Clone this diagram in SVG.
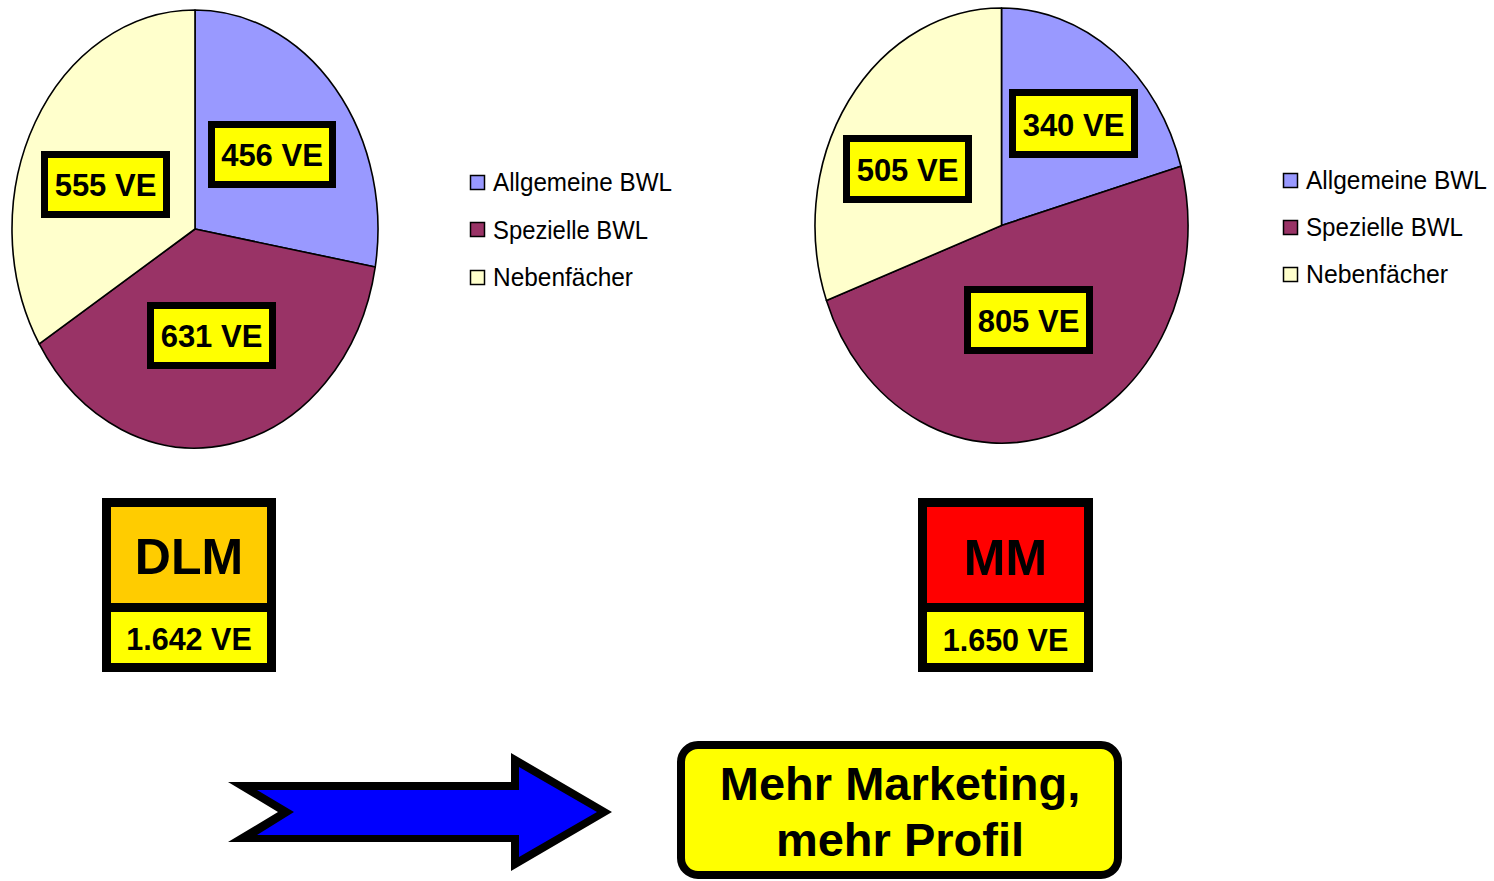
<svg xmlns="http://www.w3.org/2000/svg" width="1494" height="881" viewBox="0 0 1494 881">
  <style>
    .slice { stroke: #000; stroke-width: 1.6; stroke-linejoin: round; }
    .allg { fill: #9999FF; }
    .spez { fill: #993366; }
    .neben { fill: #FFFFCC; }
    .lbl { fill: #FFFF00; stroke: #000; stroke-width: 7; }
    .lbltxt { font-family: "Liberation Sans", Arial, sans-serif; font-weight: bold; font-size: 31px; fill: #000; text-anchor: middle; }
    .key { stroke: #000; stroke-width: 1.5; }
    .legtxt { font-family: "Liberation Sans", Arial, sans-serif; font-size: 25px; fill: #000; }
    .box { stroke: #000; stroke-width: 9; }
    .big { font-family: "Liberation Sans", Arial, sans-serif; font-weight: bold; font-size: 50px; fill: #000; text-anchor: middle; }
    .sum { font-family: "Liberation Sans", Arial, sans-serif; font-weight: bold; font-size: 30.5px; fill: #000; text-anchor: middle; }
    .claim { font-family: "Liberation Sans", Arial, sans-serif; font-weight: bold; font-size: 47px; fill: #000; text-anchor: middle; }
  </style>

  <!-- Pie chart: DLM -->
  <g id="pie-dlm">
    <path class="slice allg" d="M195,229 L195,10 A183,219 0 0 1 375.22,267.03 Z"/>
    <path class="slice spez" d="M195,229 L375.22,267.03 A183,219 0 0 1 39.23,343.95 Z"/>
    <path class="slice neben" d="M195,229 L39.23,343.95 A183,219 0 0 1 195,10 Z"/>
    <rect class="lbl" x="211.5" y="124.5" width="121" height="60"/>
    <text class="lbltxt" x="272" y="166">456 VE</text>
    <rect class="lbl" x="44.5" y="154.5" width="122" height="60"/>
    <text class="lbltxt" x="105.5" y="196">555 VE</text>
    <rect class="lbl" x="150.5" y="305.5" width="122" height="60"/>
    <text class="lbltxt" x="211.5" y="347">631 VE</text>
  </g>

  <!-- Legend: DLM -->
  <g id="legend-dlm">
    <rect class="key allg" x="470.5" y="175.5" width="14" height="14"/>
    <text class="legtxt" x="493" y="191" textLength="179" lengthAdjust="spacingAndGlyphs">Allgemeine BWL</text>
    <rect class="key spez" x="470.5" y="222.5" width="14" height="14"/>
    <text class="legtxt" x="493" y="239" textLength="155" lengthAdjust="spacingAndGlyphs">Spezielle BWL</text>
    <rect class="key neben" x="470.5" y="270.5" width="14" height="14"/>
    <text class="legtxt" x="493" y="286" textLength="140" lengthAdjust="spacingAndGlyphs">Nebenfächer</text>
  </g>

  <!-- Pie chart: MM -->
  <g id="pie-mm">
    <path class="slice allg" d="M1001.5,225.5 L1001.5,8 A186.5,217.5 0 0 1 1180.94,166.21 Z"/>
    <path class="slice spez" d="M1001.5,225.5 L1180.94,166.21 A186.5,217.5 0 0 1 826.44,300.54 Z"/>
    <path class="slice neben" d="M1001.5,225.5 L826.44,300.54 A186.5,217.5 0 0 1 1001.5,8 Z"/>
    <rect class="lbl" x="1012.5" y="92.5" width="122" height="62"/>
    <text class="lbltxt" x="1073.5" y="135.5">340 VE</text>
    <rect class="lbl" x="846.5" y="138.5" width="122" height="61"/>
    <text class="lbltxt" x="907.5" y="181">505 VE</text>
    <rect class="lbl" x="967.5" y="289.5" width="122" height="61"/>
    <text class="lbltxt" x="1028.5" y="332">805 VE</text>
  </g>

  <!-- Legend: MM -->
  <g id="legend-mm">
    <rect class="key allg" x="1283.5" y="173.5" width="14" height="14"/>
    <text class="legtxt" x="1306" y="189" textLength="181" lengthAdjust="spacingAndGlyphs">Allgemeine BWL</text>
    <rect class="key spez" x="1283.5" y="220.5" width="14" height="14"/>
    <text class="legtxt" x="1306" y="236" textLength="157" lengthAdjust="spacingAndGlyphs">Spezielle BWL</text>
    <rect class="key neben" x="1283.5" y="267.5" width="14" height="14"/>
    <text class="legtxt" x="1306" y="283" textLength="142" lengthAdjust="spacingAndGlyphs">Nebenfächer</text>
  </g>

  <!-- Totals -->
  <g id="total-dlm">
    <rect class="box" x="106.5" y="502.5" width="165" height="105" fill="#FFCC00"/>
    <rect class="box" x="106.5" y="607.5" width="165" height="60" fill="#FFFF00"/>
    <text class="big" x="189" y="574">DLM</text>
    <text class="sum" x="189" y="650">1.642 VE</text>
  </g>

  <g id="total-mm">
    <rect class="box" x="922.5" y="502.5" width="166" height="105" fill="#FF0000"/>
    <rect class="box" x="922.5" y="607.5" width="166" height="60" fill="#FFFF00"/>
    <text class="big" x="1005.5" y="575">MM</text>
    <text class="sum" x="1005.5" y="651">1.650 VE</text>
  </g>

  <!-- Block arrow -->
  <g id="arrow">
    <polygon points="228,782 511,782 511,753 612,812 511,871 511,842 228,842 278,812" fill="#000"/>
    <polygon points="257,790 519,790 519,767 597,812 519,857 519,835 257,835 294,812" fill="#0000FF"/>
  </g>

  <!-- Conclusion -->
  <g id="claim">
    <rect x="681" y="745" width="437" height="130" rx="17" fill="#FFFF00" stroke="#000" stroke-width="8"/>
    <text class="claim" x="900" y="800">Mehr Marketing,</text>
    <text class="claim" x="900" y="856">mehr Profil</text>
  </g>
</svg>
